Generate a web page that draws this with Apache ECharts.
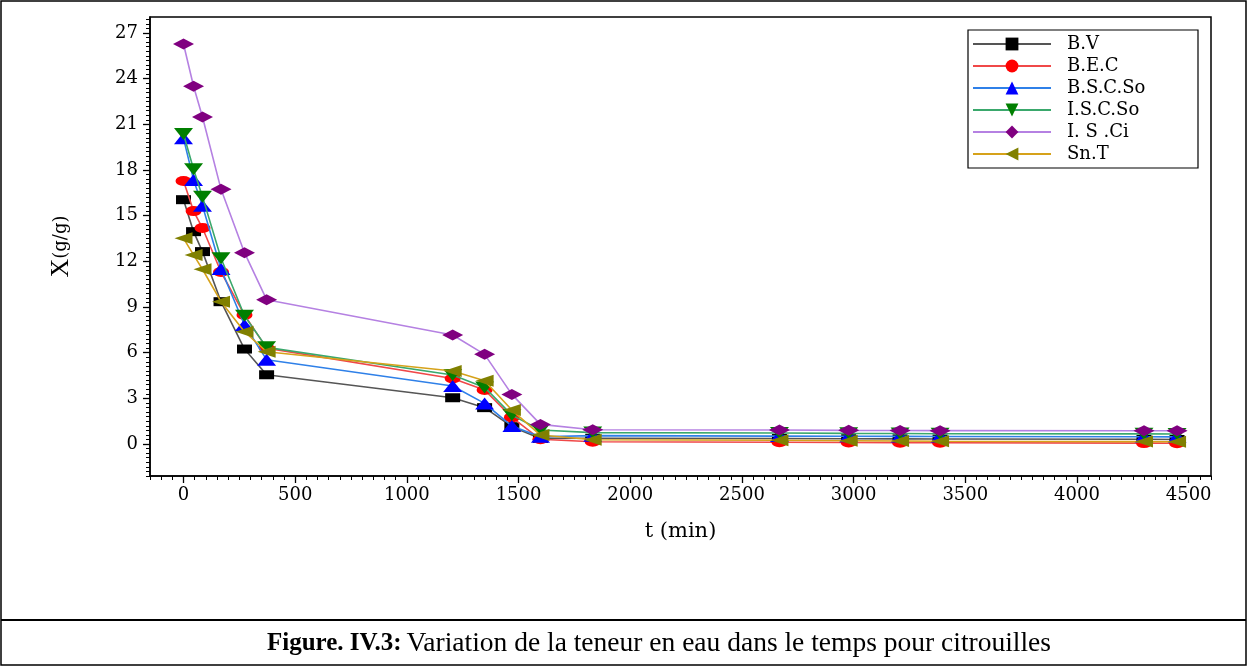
<!DOCTYPE html>
<html>
<head>
<meta charset="utf-8">
<script src="https://cdn.jsdelivr.net/npm/echarts@6/dist/echarts.min.js"></script>
<style>
html,body{margin:0;padding:0;background:#fff;}
#chart{width:1247px;height:666px;}
</style>
</head>
<body>
<div id="chart"></div>
<script>
// ---- data ----
var times = [0, 45, 85, 168, 273, 372, 1205, 1348, 1470, 1598, 1832, 2668, 2978, 3208, 3387, 4300, 4448];
var seriesNames = ['B.V', 'B.E.C', 'B.S.C.So', 'I.S.C.So', 'I. S .Ci', 'Sn.T'];
var bv    = [16.05, 13.95, 12.64, 9.35, 6.24, 4.55, 3.04, 2.39, 1.14, 0.37, 0.38, 0.36, 0.35, 0.34, 0.33, 0.31, 0.30];
var bec   = [17.28, 15.30, 14.19, 11.30, 8.48, 6.30, 4.31, 3.55, 1.75, 0.31, 0.15, 0.12, 0.10, 0.09, 0.08, 0.06, 0.05];
var bscso = [20.08, 17.35, 15.65, 11.50, 7.82, 5.54, 3.81, 2.67, 1.18, 0.48, 0.55, 0.52, 0.51, 0.50, 0.49, 0.48, 0.47];
var iscso = [20.37, 18.05, 16.25, 12.20, 8.43, 6.35, 4.53, 3.72, 1.90, 0.92, 0.75, 0.72, 0.70, 0.69, 0.68, 0.67, 0.66];
var isci  = [26.28, 23.50, 21.48, 16.73, 12.57, 9.48, 7.16, 5.89, 3.26, 1.29, 0.94, 0.92, 0.90, 0.89, 0.88, 0.87, 0.87];
var snt   = [13.51, 12.42, 11.48, 9.35, 7.38, 6.06, 4.80, 4.16, 2.23, 0.59, 0.28, 0.25, 0.22, 0.20, 0.18, 0.16, 0.15];
var xTicks = [0, 500, 1000, 1500, 2000, 2500, 3000, 3500, 4000, 4500];
var yTicks = [0, 3, 6, 9, 12, 15, 18, 21, 24, 27];

var X_MIN = -150, X_MAX = 4600, Y_MIN = -2.1, Y_MAX = 28.05;

function pairs(vals){ return vals.map(function(v,i){ return [times[i], v]; }); }
function minorList(min, max, step, majors){
  var out = [];
  var n = Math.round((max - min) / step);
  for (var i = 0; i <= n; i++) {
    var v = Math.round((min + i * step) * 1000) / 1000;
    if (v > max) break;
    if (majors.indexOf(v) < 0) out.push(v);
  }
  return out;
}
var xMinor = minorList(X_MIN, X_MAX, 50, xTicks);
var yMinor = minorList(Y_MIN, 27.9, 0.3, yTicks);

var SERIF = '"Liberation Serif", "DejaVu Serif", serif';
var WIDE = '"DejaVu Serif", "Liberation Serif", serif';

var styles = [
  {line:'#555555', mark:'#000000', symbol:'rect', size:[15,9], rot:0},
  {line:'#f04848', mark:'#ff0000', symbol:'circle', size:[16,10], rot:0},
  {line:'#2f80e8', mark:'#0000ff', symbol:'triangle', size:[19,12], rot:0},
  {line:'#3aa86c', mark:'#007f00', symbol:'triangle', size:[19,12], rot:180},
  {line:'#b581e2', mark:'#800080', symbol:'diamond', size:[21,11], rot:0},
  {line:'#d6a21a', mark:'#808000', symbol:'triangle', size:[12,18], rot:90}
];
var dataSets = [bv, bec, bscso, iscso, isci, snt];

var series = dataSets.map(function(d, i){
  var s = styles[i];
  return {
    name: seriesNames[i],
    type: 'line',
    xAxisIndex: 0, yAxisIndex: 0,
    data: pairs(d),
    symbol: s.symbol,
    symbolSize: s.size,
    symbolRotate: s.rot,
    showAllSymbol: true,
    lineStyle: {color: s.line, width: 1.6},
    itemStyle: {color: s.mark},
    emphasis: {disabled: true},
    animation: false,
    z: 2 + i
  };
});

var tickFmt = function(v){ return String(v); };

var chart = echarts.init(document.getElementById('chart'), null, {renderer: 'canvas'});
chart.setOption({
  backgroundColor: '#fff',
  animation: false,
  grid: {left: 150, right: 36, top: 17, bottom: 190, show: true, borderColor: '#000', borderWidth: 1.5, backgroundColor: 'transparent'},
  xAxis: [{
    type: 'value', min: X_MIN, max: X_MAX, position: 'bottom',
    name: 't (min)', nameLocation: 'middle', nameGap: 45,
    nameTextStyle: {fontFamily: WIDE, fontSize: 21, color: '#000'},
    axisLine: {show: true, onZero: false, lineStyle: {color: '#000', width: 1.5}},
    axisTick: {show: true, length: 7, customValues: xTicks, lineStyle: {color: '#000', width: 1.3}},
    axisLabel: {customValues: xTicks, formatter: tickFmt, fontFamily: WIDE, fontSize: 18, color: '#000', margin: 10},
    splitLine: {show: false}
  }, {
    type: 'value', min: X_MIN, max: X_MAX, position: 'bottom',
    axisLine: {show: false, onZero: false},
    axisTick: {show: true, length: 4, customValues: xMinor, lineStyle: {color: '#000', width: 1}},
    axisLabel: {show: false},
    splitLine: {show: false}
  }],
  yAxis: [{
    type: 'value', min: Y_MIN, max: Y_MAX, position: 'left',
    name: '{a|X}{b|(g/g)}', nameLocation: 'middle', nameGap: 76, nameRotate: 90,
    nameTextStyle: {rich: {a: {fontFamily: SERIF, fontSize: 26, color: '#000'}, b: {fontFamily: WIDE, fontSize: 18, color: '#000'}}},
    axisLine: {show: true, onZero: false, lineStyle: {color: '#000', width: 1.5}},
    axisTick: {show: true, length: 7, customValues: yTicks, lineStyle: {color: '#000', width: 1.3}},
    axisLabel: {customValues: yTicks, formatter: tickFmt, fontFamily: WIDE, fontSize: 18, color: '#000', margin: 12},
    splitLine: {show: false}
  }, {
    type: 'value', min: Y_MIN, max: Y_MAX, position: 'left',
    axisLine: {show: false, onZero: false},
    axisTick: {show: true, length: 4, customValues: yMinor, lineStyle: {color: '#000', width: 1}},
    axisLabel: {show: false},
    splitLine: {show: false}
  }],
  legend: {
    orient: 'vertical', left: 968, top: 30,
    data: seriesNames,
    itemWidth: 78, itemHeight: 16, itemGap: 4,
    padding: [5, 4, 5, 4],
    borderColor: '#000', borderWidth: 1.2, borderRadius: 0,
    backgroundColor: '#fff',
    textStyle: {fontFamily: WIDE, fontSize: 18, lineHeight: 16, width: 127, color: '#000', padding: [0, 0, 0, 11]},
    selectedMode: false
  },
  title: {
    left: 262, top: 625,
    text: '{b|Figure. IV.3:} {n|Variation de la teneur en eau dans le temps pour citrouilles}',
    textStyle: {fontWeight: 'normal', rich: {
      b: {fontFamily: SERIF, fontSize: 25, fontWeight: 'bold', color: '#000'},
      n: {fontFamily: SERIF, fontSize: 27.5, fontWeight: 'normal', color: '#000'}
    }}
  },
  graphic: [
    {type: 'rect', shape: {x: 1, y: 1, width: 1245, height: 664}, style: {fill: 'none', stroke: '#000', lineWidth: 1.5}, silent: true},
    {type: 'line', shape: {x1: 1, y1: 620, x2: 1246, y2: 620}, style: {stroke: '#000', lineWidth: 2}, silent: true}
  ],
  series: series
});
</script>
</body>
</html>
